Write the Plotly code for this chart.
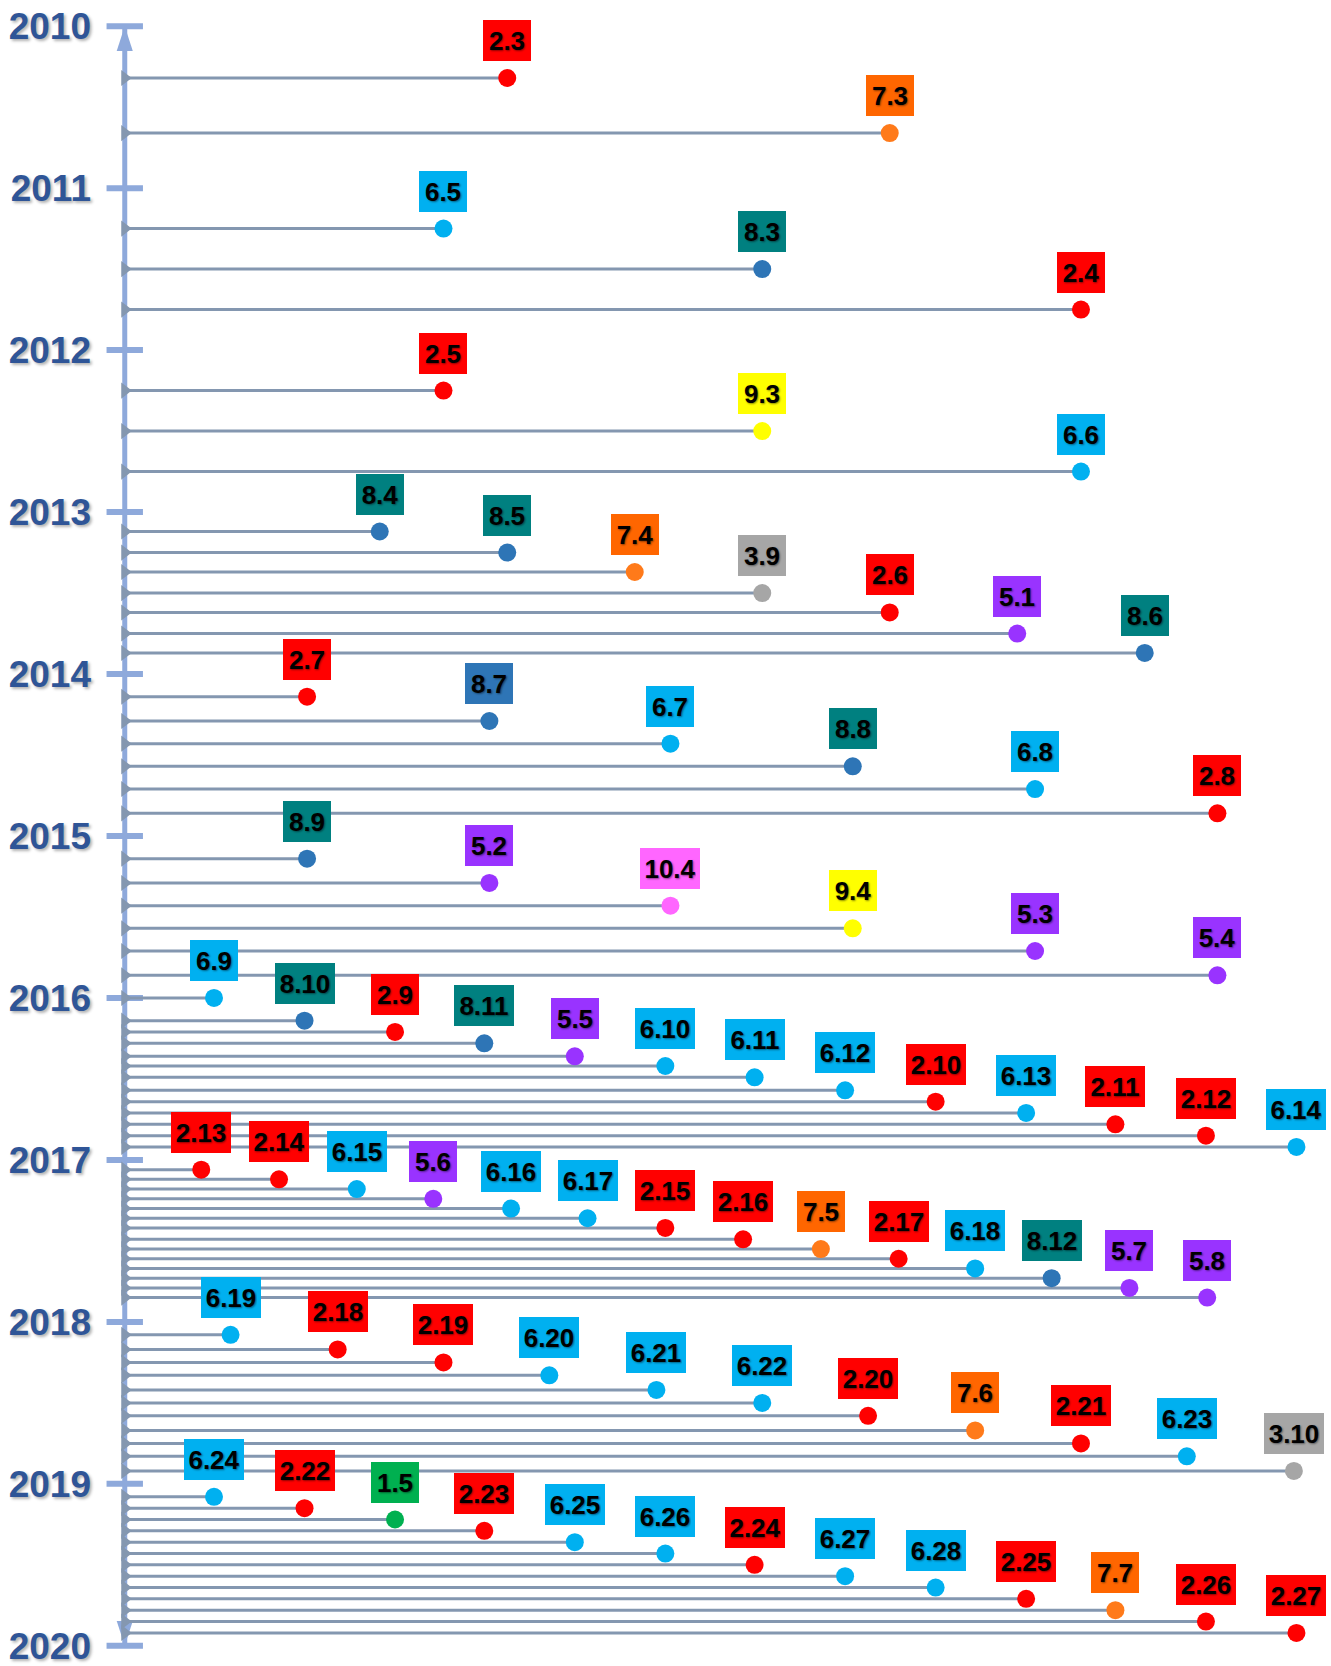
import plotly.graph_objects as go

# ---------------- data ----------------
years = list(range(2010, 2021))

labels = [
    "2.3", "7.3",
    "6.5", "8.3", "2.4",
    "2.5", "9.3", "6.6",
    "8.4", "8.5", "7.4", "3.9", "2.6", "5.1", "8.6",
    "2.7", "8.7", "6.7", "8.8", "6.8", "2.8",
    "8.9", "5.2", "10.4", "9.4", "5.3", "5.4",
    "6.9", "8.10", "2.9", "8.11", "5.5", "6.10", "6.11", "6.12", "2.10", "6.13", "2.11", "2.12", "6.14",
    "2.13", "2.14", "6.15", "5.6", "6.16", "6.17", "2.15", "2.16", "7.5", "2.17", "6.18", "8.12", "5.7", "5.8",
    "6.19", "2.18", "2.19", "6.20", "6.21", "6.22", "2.20", "7.6", "2.21", "6.23", "3.10",
    "6.24", "2.22", "1.5", "2.23", "6.25", "6.26", "2.24", "6.27", "6.28", "2.25", "7.7", "2.26", "2.27",
]

dates = [
    2010.32, 2010.66,
    2011.25, 2011.50, 2011.75,
    2012.25, 2012.50, 2012.75,
    2013.12, 2013.25, 2013.37, 2013.50, 2013.62, 2013.75, 2013.87,
    2014.14, 2014.29, 2014.43, 2014.57, 2014.71, 2014.86,
    2015.14, 2015.29, 2015.43, 2015.57, 2015.71, 2015.86,
    2016.00, 2016.14, 2016.21, 2016.28, 2016.36, 2016.42, 2016.49, 2016.57, 2016.64, 2016.71, 2016.78, 2016.85, 2016.92,
    2017.06, 2017.12, 2017.18, 2017.24, 2017.30, 2017.36, 2017.42, 2017.49, 2017.55, 2017.61, 2017.67, 2017.73, 2017.79, 2017.85,
    2018.08, 2018.17, 2018.25, 2018.33, 2018.42, 2018.50, 2018.58, 2018.67, 2018.75, 2018.83, 2018.92,
    2019.08, 2019.15, 2019.22, 2019.29, 2019.36, 2019.43, 2019.50, 2019.57, 2019.64, 2019.71, 2019.78, 2019.85, 2019.92,
]

positions = [
    30, 60,
    25, 50, 75,
    25, 50, 75,
    20, 30, 40, 50, 60, 70, 80,
    14.3, 28.6, 42.8, 57.1, 71.4, 85.7,
    14.3, 28.6, 42.8, 57.1, 71.4, 85.7,
    7.0, 14.1, 21.2, 28.2, 35.3, 42.4, 49.4, 56.5, 63.6, 70.7, 77.7, 84.8, 91.9,
    6.0, 12.1, 18.2, 24.2, 30.3, 36.3, 42.4, 48.5, 54.6, 60.7, 66.7, 72.7, 78.8, 84.9,
    8.3, 16.7, 25.0, 33.3, 41.7, 50.0, 58.3, 66.7, 75.0, 83.3, 91.7,
    7.0, 14.1, 21.2, 28.2, 35.3, 42.4, 49.4, 56.5, 63.6, 70.7, 77.7, 84.8, 91.9,
]

# ---------------- styles ----------------
BOX_COLORS = {
    "1": "#00B050", "2": "#FF0000", "3": "#A6A6A6", "5": "#9933FF",
    "6": "#00B0F0", "7": "#FF6600", "8": "#008080", "9": "#FFFF00", "10": "#FF66FF",
}
DOT_COLORS = {
    "1": "#00B050", "2": "#FF0000", "3": "#A6A6A6", "5": "#9933FF",
    "6": "#00B0F0", "7": "#FF7A1A", "8": "#2E75B6", "9": "#FFFF00", "10": "#FF66FF",
}
BOX_OVERRIDE = {"8.7": "#2E75B6"}

AXIS_COLOR = "#8EA9DB"
LINE_COLOR = "#8497B0"
YEAR_COLOR = "#2F5597"
FONT = "Liberation Sans, Arial, sans-serif"


def cat(lbl):
    return lbl.split(".")[0]


box_colors = [BOX_OVERRIDE.get(l, BOX_COLORS[cat(l)]) for l in labels]
dot_colors = [DOT_COLORS[cat(l)] for l in labels]

fig = go.Figure()

# vertical time axis
fig.add_trace(go.Scatter(
    x=[0, 0], y=[years[0], years[-1]], mode="lines",
    line=dict(color=AXIS_COLOR, width=5), hoverinfo="skip", cliponaxis=False))

# year tick bars
fig.add_trace(go.Scatter(
    x=[0] * len(years), y=years, mode="markers",
    marker=dict(symbol="line-ew", size=26, line=dict(width=6, color=AXIS_COLOR)),
    hoverinfo="skip", cliponaxis=False))

# arrow heads at both ends
fig.add_trace(go.Scatter(
    x=[0, 0], y=[years[0], years[-1]], mode="markers",
    marker=dict(symbol="arrow", size=26, angle=[0, 180], color=AXIS_COLOR),
    hoverinfo="skip", cliponaxis=False))

# event connector lines
lx, ly = [], []
for xv, yv in zip(positions, dates):
    lx += [0, xv, None]
    ly += [yv, yv, None]
fig.add_trace(go.Scatter(
    x=lx, y=ly, mode="lines", line=dict(color=LINE_COLOR, width=3),
    hoverinfo="skip", cliponaxis=False))

# little start arrows at the axis
fig.add_trace(go.Scatter(
    x=[0] * len(dates), y=dates, mode="markers",
    marker=dict(symbol="triangle-right", size=14, color=LINE_COLOR),
    hoverinfo="skip", cliponaxis=False))

# event dots
fig.add_trace(go.Scatter(
    x=positions, y=dates, mode="markers",
    marker=dict(size=18, color=dot_colors),
    text=labels, hoverinfo="text", cliponaxis=False))

annotations = []
for lbl, xv, yv, bc in zip(labels, positions, dates, box_colors):
    annotations.append(dict(
        x=xv, y=yv, xref="x", yref="y", text=lbl, showarrow=False,
        xanchor="center", yanchor="bottom", yshift=17,
        bgcolor=bc, borderpad=4, borderwidth=0,
        width=40 if len(lbl) <= 3 else 52, height=33,
        font=dict(size=26, color="black", family=FONT, weight="bold",
                  shadow="1px 1px 2px rgba(0,0,0,0.45)"),
    ))

PX_PER_UNIT = 12.747
fig.update_layout(
    width=1331, height=1666,
    margin=dict(l=125 - PX_PER_UNIT, r=0, t=26, b=20, autoexpand=False),
    paper_bgcolor="white", plot_bgcolor="white",
    showlegend=False,
    annotations=annotations,
    xaxis=dict(range=[-1, 94.61], visible=False, automargin=False),
    yaxis=dict(
        range=[years[-1] + 0.001, years[0] - 0.001],
        tickvals=years, ticktext=[str(y) for y in years],
        showgrid=False, zeroline=False, showline=False, ticks="",
        automargin=False, ticklabeloverflow="allow",
        ticklabelstandoff=20,
        tickfont=dict(size=37, color=YEAR_COLOR, family=FONT, weight="bold",
                      shadow="2px 2px 3px rgba(0,0,0,0.3)"),
    ),
)

fig.write_html("out.html", config={"displayModeBar": False},
               post_script="document.body.style.margin='0px';")
